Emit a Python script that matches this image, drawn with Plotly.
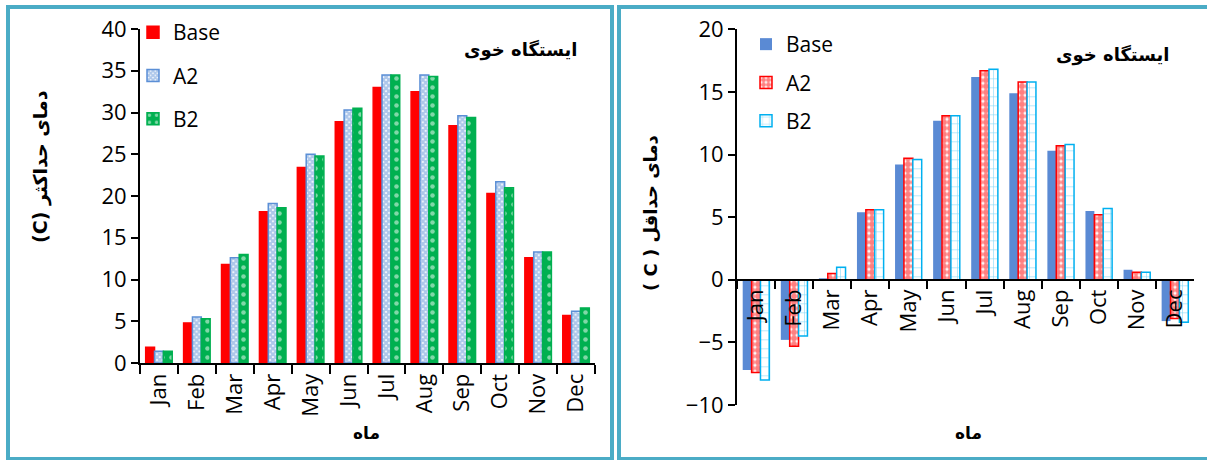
import plotly.graph_objects as go

months = ["Jan", "Feb", "Mar", "Apr", "May", "Jun", "Jul", "Aug", "Sep", "Oct", "Nov", "Dec"]

# Left panel: maximum temperature (C)
max_base = [1.9, 4.8, 11.8, 18.1, 23.4, 28.9, 33.0, 32.5, 28.4, 20.3, 12.6, 5.7]
max_a2 = [1.4, 5.5, 12.6, 19.1, 25.0, 30.3, 34.5, 34.5, 29.6, 21.7, 13.3, 6.2]
max_b2 = [1.4, 5.3, 13.0, 18.6, 24.8, 30.5, 34.5, 34.3, 29.4, 21.0, 13.3, 6.6]

# Right panel: minimum temperature (C)
min_base = [-7.2, -4.8, 0.1, 5.4, 9.2, 12.7, 16.2, 14.9, 10.3, 5.5, 0.8, -3.3]
min_a2 = [-7.4, -5.3, 0.5, 5.6, 9.7, 13.1, 16.7, 15.8, 10.7, 5.2, 0.6, -3.1]
min_b2 = [-8.0, -4.5, 1.0, 5.6, 9.6, 13.1, 16.8, 15.8, 10.8, 5.7, 0.6, -3.4]

left_range = [0, 40]
right_range = [-10, 20]

W, H = 1207, 460
TXT = "Open Sans"
AR = "DejaVu Sans"
TEAL = "#4BACC6"

def px_x(p):
    return p / W

def px_y(p):
    return 1 - p / H

fig = go.Figure()

# ---- left chart traces
fig.add_trace(go.Bar(x=months, y=max_base, name="Base", xaxis="x", yaxis="y",
                     marker=dict(color="#FF0000", line=dict(color="#FF0000", width=1.5)),
                     legend="legend", legendgroup="l1"))
fig.add_trace(go.Bar(x=months, y=max_a2, name="A2", xaxis="x", yaxis="y",
                     marker=dict(color="white", line=dict(color="#5B8FD6", width=1.5),
                                 pattern=dict(shape="x", fgcolor="#5B8FD6", bgcolor="white",
                                              size=4, solidity=0.8)),
                     legend="legend", legendgroup="l2"))
fig.add_trace(go.Bar(x=months, y=max_b2, name="B2", xaxis="x", yaxis="y",
                     marker=dict(color="#00B050", line=dict(color="#00B050", width=1.5),
                                 pattern=dict(shape=".", fgcolor="white", bgcolor="#00B050",
                                              size=9, solidity=0.2)),
                     legend="legend", legendgroup="l3"))

# ---- right chart traces
fig.add_trace(go.Bar(x=months, y=min_base, name="Base", xaxis="x2", yaxis="y2",
                     marker=dict(color="#5A8AD4", line=dict(width=0)),
                     legend="legend2", legendgroup="r1"))
fig.add_trace(go.Bar(x=months, y=min_a2, name="A2", xaxis="x2", yaxis="y2",
                     marker=dict(color="white", line=dict(color="#FF0000", width=1.5),
                                 pattern=dict(shape=".", fgcolor="#FF0000", bgcolor="white",
                                              size=6, solidity=0.75)),
                     legend="legend2", legendgroup="r2"))
fig.add_trace(go.Bar(x=months, y=min_b2, name="B2", xaxis="x2", yaxis="y2",
                     marker=dict(color="white", line=dict(color="#00B0F0", width=1.5),
                                 pattern=dict(shape="+", fgcolor="#00B0F0", bgcolor="white",
                                              size=9, solidity=0.12)),
                     legend="legend2", legendgroup="r3"))

left_dom_x = [px_x(140), px_x(595)]
left_dom_y = [px_y(363), px_y(29)]
right_dom_x = [px_x(737), px_x(1194)]
right_dom_y = [px_y(405), px_y(29.3)]
zero_pos = right_dom_y[0] + (0 - right_range[0]) / (right_range[1] - right_range[0]) * (right_dom_y[1] - right_dom_y[0])

axis_common = dict(showline=True, linecolor="black", linewidth=2, ticks="outside",
                   tickcolor="black", tickwidth=2, showgrid=False, zeroline=False,
                   automargin=False,
                   tickfont=dict(family=TXT, size=22, color="black"))

fig.update_layout(
    width=W, height=H, margin=dict(l=0, r=0, t=0, b=0, autoexpand=False),
    paper_bgcolor="white", plot_bgcolor="white",
    barmode="group", bargap=0.3, bargroupgap=0,
    xaxis=dict(domain=left_dom_x, anchor="y", tickangle=-90, tickson="boundaries",
               ticklen=9, **axis_common),
    yaxis=dict(domain=left_dom_y, anchor="x", range=left_range, dtick=5, ticklen=7,
               **axis_common),
    xaxis2=dict(domain=right_dom_x, anchor="free", position=zero_pos, tickangle=-90,
                tickson="boundaries", ticklen=8, **axis_common),
    yaxis2=dict(domain=right_dom_y, anchor="x2", range=right_range, dtick=5, ticklen=7,
                **axis_common),
    legend=dict(x=px_x(133), y=px_y(12), xanchor="left", yanchor="top",
                bgcolor="rgba(0,0,0,0)", font=dict(family=TXT, size=21, color="black"),
                tracegroupgap=13, itemwidth=30),
    legend2=dict(x=px_x(746), y=px_y(24), xanchor="left", yanchor="top",
                 bgcolor="rgba(0,0,0,0)", font=dict(family=TXT, size=21, color="black"),
                 tracegroupgap=8, itemwidth=30),
    showlegend=True,
)

ann = [
    dict(text="<b>ایستگاه خوی</b>", x=px_x(520), y=px_y(50), size=18),
    dict(text="<b>ایستگاه خوی</b>", x=px_x(1112), y=px_y(55), size=18),
    dict(text="<b>(C) دمای حداکثر</b>", x=px_x(40), y=px_y(167), textangle=-90, size=19),
    dict(text="<b>( C ) دمای حداقل</b>", x=px_x(650), y=px_y(213), textangle=-90, size=18),
    dict(text="<b>ماه</b>", x=px_x(367), y=px_y(433), size=17),
    dict(text="<b>ماه</b>", x=px_x(968), y=px_y(433), size=17),
]
for a in ann:
    size = a.pop("size")
    fig.add_annotation(xref="paper", yref="paper", showarrow=False,
                       xanchor="center", yanchor="middle",
                       font=dict(family=AR, size=size, color="black"), **a)

# panel borders
fig.add_shape(type="rect", xref="paper", yref="paper",
              x0=px_x(8), x1=px_x(612), y0=px_y(459), y1=px_y(7),
              line=dict(color=TEAL, width=4), layer="above")
fig.add_shape(type="rect", xref="paper", yref="paper",
              x0=px_x(619), x1=px_x(1210), y0=px_y(459), y1=px_y(7),
              line=dict(color=TEAL, width=4), layer="above")

fig.write_html("out.html", config={"displayModeBar": False},
               post_script="document.body.style.margin='0px';")
